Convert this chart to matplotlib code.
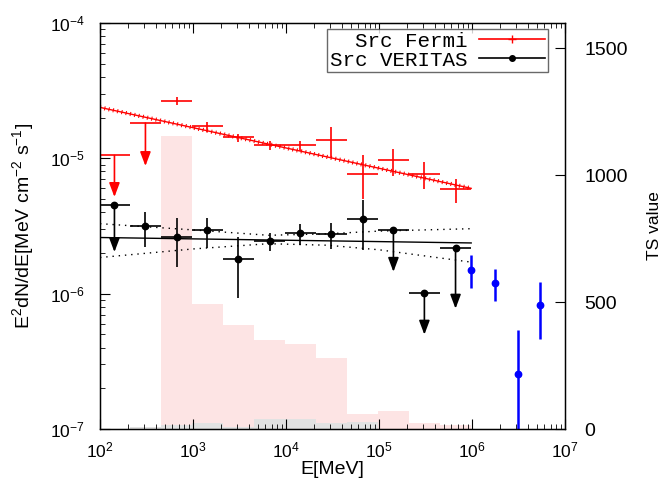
import matplotlib
matplotlib.use("Agg")
import matplotlib.pyplot as plt
import numpy as np
from matplotlib.lines import Line2D

plt.rcParams["font.family"] = "Liberation Sans"
plt.rcParams["mathtext.fontset"] = "custom"
plt.rcParams["mathtext.rm"] = "Liberation Sans"
plt.rcParams["mathtext.it"] = "Liberation Sans:italic"
plt.rcParams["mathtext.bf"] = "Liberation Sans:bold"

# energy bins [MeV] shared by Fermi and VERITAS points
bin_lo = np.array([98, 209, 453, 977, 2090, 4530, 9770, 20900, 45300, 97700, 209000, 453000])
bin_hi = np.array([209, 453, 977, 2090, 4530, 9770, 20900, 45300, 97700, 209000, 453000, 977000])
bin_c = np.array([143, 308, 665, 1429, 3076, 6653, 14290, 30760, 66530, 142900, 307600, 665300])

# Fermi SED
fermi_flux = np.array([1.05e-5, 1.82e-5, 2.65e-5, 1.72e-5, 1.44e-5, 1.25e-5,
                       1.25e-5, 1.37e-5, 7.6e-6, 9.7e-6, 7.7e-6, 5.97e-6])
fermi_hi = np.array([np.nan, np.nan, 2.84e-5, 1.85e-5, 1.52e-5, 1.34e-5,
                     1.34e-5, 1.70e-5, 1.05e-5, 1.18e-5, 9.46e-6, 7.08e-6])
fermi_lo = np.array([np.nan, np.nan, 2.47e-5, 1.56e-5, 1.32e-5, 1.16e-5,
                     1.14e-5, 1.02e-5, 4.98e-6, 7.4e-6, 5.97e-6, 4.71e-6])
fermi_ul = np.array([True, True] + [False] * 10)
fermi_ul_tip = np.array([5.18e-6, 8.77e-6])

# VERITAS-band SED
ver_flux = np.array([4.5e-6, 3.14e-6, 2.62e-6, 2.94e-6, 1.79e-6, 2.46e-6,
                     2.81e-6, 2.76e-6, 3.54e-6, 2.94e-6, 1.02e-6, 2.17e-6])
ver_hi = np.array([np.nan, 4.01e-6, 3.65e-6, 3.62e-6, 2.62e-6, 2.83e-6,
                   3.29e-6, 3.35e-6, 4.95e-6, np.nan, np.nan, np.nan])
ver_lo = np.array([np.nan, 2.21e-6, 1.57e-6, 2.19e-6, 9.3e-7, 2.07e-6,
                   2.30e-6, 2.15e-6, 2.09e-6, np.nan, np.nan, np.nan])
ver_ul = np.array([True] + [False] * 8 + [True, True, True])
ver_ul_tip = np.array([2.03e-6, 1.45e-6, 4.98e-7, 7.75e-7])

# blue points
blue_E = np.array([9.8e5, 1.77e6, 3.09e6, 5.37e6])
blue_flux = np.array([1.50e-6, 1.19e-6, 2.55e-7, 8.3e-7])
blue_hi = np.array([1.92e-6, 1.51e-6, 5.42e-7, 1.22e-6])
blue_lo = np.array([1.11e-6, 8.77e-7, 5.0e-8, 4.59e-7])

# fits
fermi_fit_E = [100, 9.8e5]
fermi_fit_F = [2.38e-5, 6.0e-6]
ver_fit_E = [100, 9.8e5]
ver_fit_F = [2.6e-6, 2.37e-6]
band_E = [100, 1000, 6500, 28000, 1e5, 9.8e5]
band_up = [3.29e-6, 2.96e-6, 2.70e-6, 2.77e-6, 2.90e-6, 3.02e-6]
band_dn = [1.85e-6, 2.14e-6, 2.34e-6, 2.28e-6, 2.11e-6, 1.71e-6]

# TS histograms
ts_fermi = np.array([0, 0, 1155, 493, 410, 351, 335, 280, 59, 71, 22, 15])
ts_ver = np.array([0, 6, 16, 24, 7, 39, 39, 24, 29, 0, 0, 0])

fig = plt.figure(figsize=(6.65, 4.88), dpi=100)
ax = fig.add_axes([100 / 665, 1 - 429 / 488, 465 / 665, 406 / 488])
ax2 = ax.twinx()
ax.set_zorder(2)
ax2.set_zorder(1)
ax.patch.set_visible(False)

ax2.bar(bin_lo, ts_fermi, width=bin_hi - bin_lo, align="edge", color="#fde4e4", lw=0)
ax2.bar(bin_lo, ts_ver, width=bin_hi - bin_lo, align="edge", color="#e2e2e2", lw=0)
ax2.set_ylim(0, 1600)
ax2.set_yticks([0, 500, 1000, 1500])
ax2.tick_params(axis="y", direction="in", length=7, labelsize=14, pad=14)
ax2.set_ylabel("TS value", fontsize=12.5, labelpad=14)

ax.set_xscale("log")
ax.set_yscale("log")
ax.set_xlim(100, 1e7)
ax.set_ylim(1e-7, 1e-4)

# Fermi fit with small tick marks
ax.plot(fermi_fit_E, fermi_fit_F, color="red", lw=1.0)
ax.plot(fermi_fit_E, fermi_fit_F, color="red", lw=3, dashes=(0.25, 0.8),
        solid_capstyle="butt", dash_capstyle="butt")

# VERITAS fit and band
ax.plot(ver_fit_E, ver_fit_F, color="black", lw=1.0)
ax.plot(band_E, band_up, color="black", lw=1.0, ls=(0, (1, 3.5)))
ax.plot(band_E, band_dn, color="black", lw=1.0, ls=(0, (1, 3.5)))

xerr = [bin_c - bin_lo, bin_hi - bin_c]
# Fermi
ax.errorbar(bin_c, fermi_flux, xerr=xerr, fmt="none", ecolor="red", elinewidth=1.2, capsize=0)
ok = ~fermi_ul
ax.errorbar(bin_c[ok], fermi_flux[ok],
            yerr=[fermi_flux[ok] - fermi_lo[ok], fermi_hi[ok] - fermi_flux[ok]],
            fmt="none", ecolor="red", elinewidth=1.2, capsize=0)
for e, f, t in zip(bin_c[fermi_ul], fermi_flux[fermi_ul], fermi_ul_tip):
    ax.annotate("", xy=(e, t), xytext=(e, f),
                arrowprops=dict(arrowstyle="-|>,head_width=0.32,head_length=0.85",
                                color="red", lw=1.2, mutation_scale=10,
                                shrinkA=0, shrinkB=0))

# VERITAS
ax.errorbar(bin_c, ver_flux, xerr=xerr, fmt="o", color="black", ms=4.6,
            elinewidth=1.2, capsize=0)
ok = ~ver_ul
ax.errorbar(bin_c[ok], ver_flux[ok],
            yerr=[ver_flux[ok] - ver_lo[ok], ver_hi[ok] - ver_flux[ok]],
            fmt="none", ecolor="black", elinewidth=1.2, capsize=0)
shaft = ["black", "#555555", "#555555", "#555555"]
for e, f, t, c in zip(bin_c[ver_ul], ver_flux[ver_ul], ver_ul_tip, shaft):
    ax.annotate("", xy=(e, t), xytext=(e, f),
                arrowprops=dict(arrowstyle="-|>,head_width=0.32,head_length=0.85",
                                color=c, fc="black", ec="black", lw=1.2,
                                mutation_scale=10, shrinkA=0, shrinkB=0))

# blue points
ax.errorbar(blue_E, blue_flux, yerr=[blue_flux - blue_lo, blue_hi - blue_flux],
            fmt="o", color="#0000ff", ms=4.6, elinewidth=1.8, capsize=0)

ax.tick_params(which="both", direction="in", top=True, right=False, labelsize=12.5)
ax.tick_params(which="major", length=7)
ax.tick_params(axis="x", which="major", pad=8)
ax.tick_params(axis="y", which="major", pad=11)
ax.tick_params(which="minor", length=3.5)
ax.set_xlabel("E[MeV]", fontsize=14, labelpad=1)
ax.set_ylabel(r"E$^{2}$dN/dE[MeV cm$^{-2}$ s$^{-1}$]", fontsize=14, labelpad=10)
for s in ax.spines.values():
    s.set_linewidth(1.0)

handles = [Line2D([], [], color="red", marker="+", ms=6, lw=1.2),
           Line2D([], [], color="black", marker="o", ms=4, lw=1.2)]
leg = ax.legend(handles, ["  Src Fermi", "Src VERITAS"], loc="upper right",
                bbox_to_anchor=(0.963, 0.985), borderaxespad=0, markerfirst=False,
                prop={"family": "Liberation Mono", "size": 15}, handlelength=3.2,
                frameon=True, fancybox=False, edgecolor="#444444",
                borderpad=0.12, labelspacing=0.0, handletextpad=0.55)
leg.get_frame().set_linewidth(1.0)

fig.savefig("out.png", dpi=100)
